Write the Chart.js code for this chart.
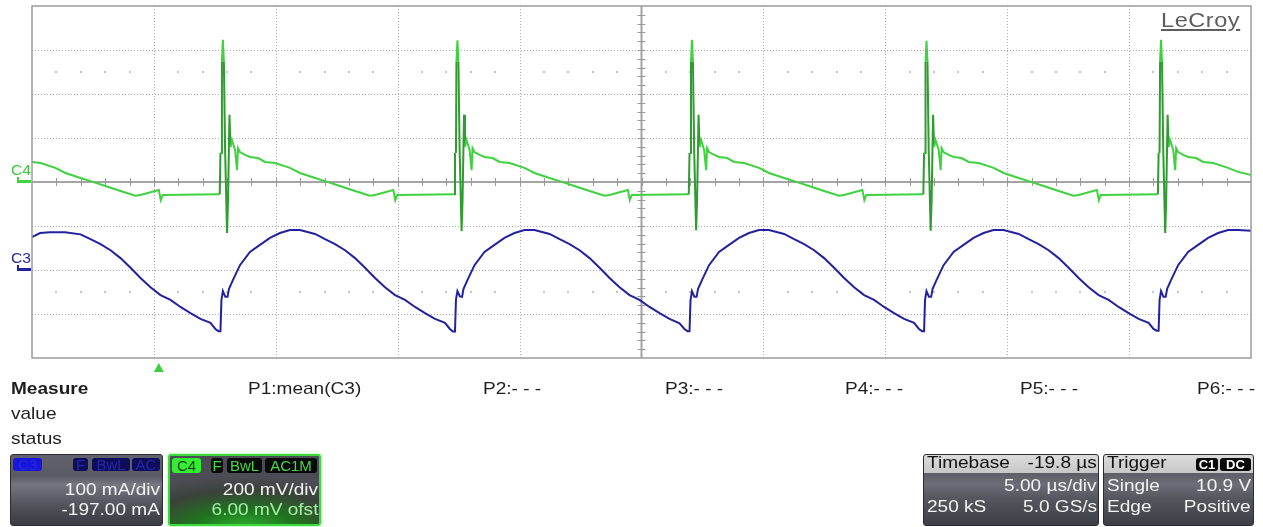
<!DOCTYPE html>
<html>
<head>
<meta charset="utf-8">
<script src="https://cdn.jsdelivr.net/npm/chart.js@4/dist/chart.umd.min.js"></script>
<style>
  html, body { margin: 0; padding: 0; background: #fff; }
  #wrap { position: relative; width: 1263px; height: 527px; overflow: hidden; }
  #scope { position: absolute; left: 0; top: 0; }
  .t { position: absolute; font-family: 'Liberation Sans', Arial, sans-serif; font-size: 17px;
       line-height: 20px; white-space: nowrap; color: #1e1e1e; transform: scaleX(1.12); transform-origin: left top; }
  .r { transform-origin: right top; }
  .box { position: absolute; top: 454px; height: 72px; box-sizing: border-box; border-radius: 3px; overflow: hidden; }
  .badge { position: absolute; top: 3px; height: 13px; border-radius: 3px; font-family: 'Liberation Sans', Arial, sans-serif;
           font-size: 15px; line-height: 13px; text-align: center; }
  .lbl { position: absolute; font-family: 'Liberation Sans', Arial, sans-serif; font-size: 14px; line-height: 16px;
         transform: scaleX(1.12); transform-origin: left top; }
</style>
</head>
<body>
<div id="wrap">
  <canvas id="scope" width="1263" height="527"></canvas>

  <div class="lbl" style="left:11px;top:162px;color:#3cc83c;">C4</div>
  <div class="lbl" style="left:11px;top:250px;color:#26269c;">C3</div>

  <div class="t" style="left:1161px;top:8px;font-size:21px;line-height:24px;letter-spacing:0.5px;color:#5e5e5e;
       text-decoration:underline;text-decoration-thickness:2px;text-underline-offset:2px;">LeCroy</div>

  <div class="t" style="left:11px;top:379px;font-weight:bold;">Measure</div>
  <div class="t" style="left:11px;top:404px;">value</div>
  <div class="t" style="left:11px;top:429px;">status</div>
  <div id="slots"></div>

  <!-- C3 channel descriptor -->
  <div class="box" style="left:10px;width:153px;border:1px solid #2c2c30;
       background:linear-gradient(to bottom,#62626c 0%,#5a5a64 30%,#767680 42%,#62626c 58%,#4a4a52 80%,#3c3c44 100%);">
    <div class="badge" style="left:2px;width:29px;background:#1616e0;color:#2a2ac8;">C3</div>
    <div class="badge" style="left:62px;width:15px;background:#0d0d5a;color:#2626a8;">F</div>
    <div class="badge" style="left:81px;width:38px;background:#0d0d5a;color:#2626a8;">BwL</div>
    <div class="badge" style="left:121px;width:28px;background:#0d0d5a;color:#2626a8;">AC</div>
  </div>
  <div class="t r" style="right:1103px;top:480px;color:#f2f2f2;">100 mA/div</div>
  <div class="t r" style="right:1103px;top:500px;color:#f2f2f2;">-197.00 mA</div>

  <!-- C4 channel descriptor -->
  <div class="box" style="left:168px;width:153px;border:2px solid #3cd83c;box-shadow:0 0 3px #6f6;
       background:radial-gradient(ellipse 95% 75% at 50% 105%,#2fae2f 0%,#1f741f 35%,#3a423a 72%,#4c4c54 100%);">
    <div class="badge" style="left:2px;top:2px;height:15px;width:29px;line-height:15px;background:#33ee33;color:#0c3a0c;">C4</div>
    <div class="badge" style="left:41px;top:2px;height:15px;width:12px;line-height:15px;background:#0a0a0a;color:#45d845;">F</div>
    <div class="badge" style="left:57px;top:2px;height:15px;width:35px;line-height:15px;background:#0a0a0a;color:#45d845;">BwL</div>
    <div class="badge" style="left:95px;top:2px;height:15px;width:52px;line-height:15px;background:#0a0a0a;color:#45d845;">AC1M</div>
  </div>
  <div class="t r" style="right:945px;top:480px;color:#f2f2f2;">200 mV/div</div>
  <div class="t r" style="right:945px;top:500px;color:#a6eea6;">6.00 mV ofst</div>

  <!-- Timebase descriptor -->
  <div class="box" style="left:923px;width:176px;border:1px solid #2c2c30;
       background:linear-gradient(to bottom,#dcdcdc 0%,#c8c8c8 25%,#5e5e66 26%,#6c6c76 42%,#56565e 62%,#3e3e46 100%);"></div>
  <div class="t" style="left:927px;top:453px;color:#111;">Timebase</div>
  <div class="t r" style="right:166px;top:453px;color:#111;">-19.8 µs</div>
  <div class="t r" style="right:166px;top:476px;color:#f2f2f2;">5.00 µs/div</div>
  <div class="t" style="left:927px;top:497px;color:#f2f2f2;">250 kS</div>
  <div class="t r" style="right:166px;top:497px;color:#f2f2f2;">5.0 GS/s</div>

  <!-- Trigger descriptor -->
  <div class="box" style="left:1103px;width:151px;border:1px solid #2c2c30;
       background:linear-gradient(to bottom,#dcdcdc 0%,#c8c8c8 25%,#5e5e66 26%,#6c6c76 42%,#56565e 62%,#3e3e46 100%);">
    <div class="badge" style="left:92px;top:3px;width:22px;height:13px;background:#0a0a0a;color:#fff;font-size:13px;font-weight:bold;">C1</div>
    <div class="badge" style="left:116px;top:3px;width:31px;height:13px;background:#0a0a0a;color:#fff;font-size:13px;font-weight:bold;">DC</div>
  </div>
  <div class="t" style="left:1107px;top:453px;color:#111;">Trigger</div>
  <div class="t" style="left:1107px;top:476px;color:#f2f2f2;">Single</div>
  <div class="t r" style="right:12px;top:476px;color:#f2f2f2;">10.9 V</div>
  <div class="t" style="left:1107px;top:497px;color:#f2f2f2;">Edge</div>
  <div class="t r" style="right:12px;top:497px;color:#f2f2f2;">Positive</div>
</div>

<script>
// Horizontal: 5 µs/div, 10 divisions, centre at +19.8 µs
const timeDivs = [-5.2, -0.2, 4.8, 9.8, 14.8, 19.8, 24.8, 29.8, 34.8, 39.8, 44.8];
// C3: 100 mA/div, offset -197 mA (8 divisions)
const c3Divs = [-203, -103, -3, 97, 197, 297, 397, 497, 597];
// C4: 200 mV/div, offset 6 mV
const c4Range = [-806, 794];

// Measurement slots along the bottom strip
const measureNames = ['P1:mean(C3)', 'P2:- - -', 'P3:- - -', 'P4:- - -', 'P5:- - -', 'P6:- - -'];
const measureLeft = [248, 483, 665, 845, 1020, 1197];

// C4 trace: time (µs) and voltage (mV)
const c4Time = [
  -5.20, -4.85, -4.24, -3.83, -3.21, -2.80, -2.19, -1.57, -0.96, -0.75, 0.00, 0.08, 0.16,
  2.50, 2.53, 2.57, 2.59, 2.63, 2.67, 2.72, 2.80, 2.84, 2.90, 2.94, 3.00, 3.13, 3.21, 3.25, 3.33, 3.54, 3.74, 4.07, 4.36, 4.77, 5.38, 5.79, 6.41, 6.82, 7.43, 8.05, 8.66, 8.87, 9.62, 9.70, 9.78,
  12.12, 12.15, 12.19, 12.21, 12.25, 12.29, 12.34, 12.42, 12.46, 12.52, 12.56, 12.62, 12.75, 12.83, 12.87, 12.95, 13.16, 13.36, 13.69, 13.98, 14.39, 15.00, 15.41, 16.03, 16.44, 17.05, 17.67, 18.28, 18.49, 19.24, 19.32, 19.40,
  21.74, 21.77, 21.81, 21.83, 21.87, 21.91, 21.96, 22.04, 22.08, 22.14, 22.18, 22.24, 22.37, 22.45, 22.49, 22.57, 22.78, 22.98, 23.31, 23.60, 24.01, 24.62, 25.03, 25.65, 26.06, 26.67, 27.29, 27.90, 28.11, 28.86, 28.94, 29.02,
  31.36, 31.39, 31.43, 31.45, 31.49, 31.53, 31.58, 31.66, 31.70, 31.76, 31.80, 31.86, 31.99, 32.07, 32.11, 32.19, 32.40, 32.60, 32.93, 33.22, 33.63, 34.24, 34.65, 35.27, 35.68, 36.29, 36.91, 37.52, 37.73, 38.48, 38.56, 38.64,
  40.98, 41.01, 41.05, 41.07, 41.11, 41.15, 41.20, 41.28, 41.32, 41.38, 41.42, 41.48, 41.61, 41.69, 41.73, 41.81, 42.02, 42.22, 42.55, 42.84, 43.25, 43.86, 44.27, 44.80
];
const c4Mv = [
  85, 80, 58, 35, 12, -2, -24, -47, -68, -65, -42, -88, -65,
  -62, 126, 126, 540, 640, 540, 140, -238, -88, 300, 153, 185, 140, 48, 148, 130, 117, 108, 103, 85, 80, 58, 35, 12, -2, -24, -47, -68, -65, -42, -88, -65,
  -62, 126, 126, 540, 638, 540, 140, -230, -88, 300, 153, 185, 140, 48, 148, 130, 117, 108, 103, 85, 80, 58, 35, 12, -2, -24, -47, -68, -65, -42, -88, -65,
  -62, 126, 126, 540, 640, 540, 140, -225, -88, 300, 153, 185, 140, 48, 148, 130, 117, 108, 103, 85, 80, 58, 35, 12, -2, -24, -47, -68, -65, -42, -88, -65,
  -62, 126, 126, 540, 636, 540, 140, -228, -88, 300, 153, 185, 140, 48, 148, 130, 117, 108, 103, 85, 80, 58, 35, 12, -2, -24, -47, -68, -65, -42, -88, -65,
  -62, 126, 126, 540, 640, 540, 140, -238, -88, 300, 153, 185, 140, 48, 148, 130, 117, 108, 103, 85, 80, 58, 40, 26
];

// C3 trace: time (µs) and current (mA)
const c3Time = [
  -5.20, -4.87, -4.46, -3.85, -3.21, -2.80, -2.39, -1.98, -1.57, -1.16, -0.75, -0.34, 0.07, 0.48, 0.89, 1.30, 1.71, 2.12, 2.32, 2.45,
  2.53, 2.57, 2.63, 2.73, 2.82, 2.88, 3.04, 3.33, 3.74, 4.15, 4.56, 4.97, 5.38, 5.79, 6.41, 6.82, 7.23, 7.64, 8.05, 8.46, 8.87, 9.28, 9.69, 10.10, 10.51, 10.92, 11.33, 11.74, 11.94, 12.07,
  12.15, 12.19, 12.25, 12.35, 12.44, 12.50, 12.66, 12.95, 13.36, 13.77, 14.18, 14.59, 15.00, 15.41, 16.03, 16.44, 16.85, 17.26, 17.67, 18.08, 18.49, 18.90, 19.31, 19.72, 20.13, 20.54, 20.95, 21.36, 21.56, 21.69,
  21.77, 21.81, 21.87, 21.97, 22.06, 22.12, 22.28, 22.57, 22.98, 23.39, 23.80, 24.21, 24.62, 25.03, 25.65, 26.06, 26.47, 26.88, 27.29, 27.70, 28.11, 28.52, 28.93, 29.34, 29.75, 30.16, 30.57, 30.98, 31.18, 31.31,
  31.39, 31.43, 31.49, 31.59, 31.68, 31.74, 31.90, 32.19, 32.60, 33.01, 33.42, 33.83, 34.24, 34.65, 35.27, 35.68, 36.09, 36.50, 36.91, 37.32, 37.73, 38.14, 38.55, 38.96, 39.37, 39.78, 40.19, 40.60, 40.80, 40.93,
  41.01, 41.05, 41.11, 41.21, 41.30, 41.36, 41.52, 41.81, 42.22, 42.63, 43.04, 43.45, 43.86, 44.27, 44.80
];
const c3Ma = [
  72, 81, 83, 83, 78, 67, 56, 42, 24, 2, -21, -42, -60, -71, -87, -101, -114, -123, -137, -142,
  -142, -71, -51, -64, -64, -46, -26, 8, 38, 54, 70, 81, 88, 88, 79, 67, 56, 42, 24, 2, -21, -42, -60, -71, -87, -101, -114, -123, -137, -143,
  -143, -70, -51, -63, -64, -46, -26, 8, 38, 54, 70, 81, 88, 88, 79, 67, 56, 42, 24, 2, -21, -42, -60, -71, -87, -101, -114, -124, -137, -142,
  -142, -72, -51, -64, -64, -46, -26, 8, 38, 54, 70, 81, 88, 88, 79, 67, 56, 42, 24, 2, -21, -42, -60, -71, -87, -101, -114, -123, -137, -142,
  -142, -71, -51, -64, -64, -46, -26, 8, 38, 54, 70, 81, 88, 88, 79, 67, 56, 42, 24, 2, -21, -42, -60, -71, -87, -101, -114, -123, -137, -141,
  -141, -71, -51, -64, -64, -46, -26, 8, 38, 54, 70, 81, 88, 88, 86
];

// measurement slot labels
const slots = document.getElementById('slots');
measureNames.forEach((name, i) => {
  const d = document.createElement('div');
  d.className = 't';
  d.style.left = measureLeft[i] + 'px';
  d.style.top = '379px';
  d.textContent = name;
  slots.appendChild(d);
});

const C4_GREEN = '#3fd13f';
const C4_DARK = '#2e9c2e';
const C3_BLUE = '#22229e';

function toPoints(xs, ys) { return xs.map((t, i) => ({ x: t, y: ys[i] })); }

// Graticule, frame, channel zero markers and trigger arrow
const graticule = {
  id: 'graticule',
  beforeDatasetsDraw(chart) {
    const { ctx, chartArea: a, scales: { x, yC3 } } = chart;
    const line = (x0, y0, x1, y1) => { ctx.beginPath(); ctx.moveTo(x0, y0); ctx.lineTo(x1, y1); ctx.stroke(); };
    ctx.save();
    ctx.strokeStyle = '#ababab';
    ctx.lineWidth = 1;
    ctx.setLineDash([1, 2]);
    timeDivs.slice(1, -1).forEach((v, i) => {
      if (i + 1 === 5) return;
      const px = Math.round(x.getPixelForValue(v)) + 0.5;
      line(px, a.top, px, a.bottom);
    });
    c3Divs.slice(1, -1).forEach((v, i) => {
      if (i + 1 === 4) return;
      const py = Math.round(yC3.getPixelForValue(v)) + 0.5;
      line(a.left, py, a.right, py);
    });
    ctx.setLineDash([]);

    const cx = x.getPixelForValue(timeDivs[5]);
    const cy = yC3.getPixelForValue(c3Divs[4]);
    const divW = (a.right - a.left) / 10;
    const divH = (a.bottom - a.top) / 8;

    // faint marks at ±2.5 divisions
    ctx.fillStyle = '#c4c4c4';
    [cy - 2.5 * divH, cy + 2.5 * divH].forEach(py => {
      for (let k = 1; k < 50; k++) {
        if (k % 5 === 0) continue;
        ctx.fillRect(Math.round(a.left + k * divW / 5) - 1, Math.round(py) - 1, 2, 2);
      }
    });

    // centre cross
    ctx.strokeStyle = '#a4a4a4';
    ctx.lineWidth = 2;
    line(a.left, cy, a.right, cy);
    line(cx, a.top, cx, a.bottom);
    ctx.lineWidth = 1;
    ctx.strokeStyle = '#9a9a9a';
    for (let k = 1; k < 50; k++) {
      const px = Math.round(a.left + k * divW / 5) + 0.5;
      line(px, cy - 4, px, cy + 4);
    }
    for (let k = 1; k < 40; k++) {
      const py = Math.round(a.top + k * divH / 5) + 0.5;
      line(cx - 4, py, cx + 4, py);
    }
    ctx.restore();
  },
  afterDraw(chart) {
    const { ctx, chartArea: a, scales: { x, yC3, yC4 } } = chart;
    ctx.save();
    ctx.strokeStyle = '#9c9c9c';
    ctx.lineWidth = 1.5;
    ctx.strokeRect(a.left, a.top, a.right - a.left, a.bottom - a.top);

    // channel zero-level markers
    const marker = (py, color) => {
      ctx.fillStyle = color;
      ctx.fillRect(17, Math.round(py) - 1, 14, 3);
      ctx.fillRect(17, Math.round(py) - 4, 2, 4);
    };
    marker(yC4.getPixelForValue(0), C4_GREEN);
    marker(yC3.getPixelForValue(0), C3_BLUE);

    // trigger position arrow
    const tx = x.getPixelForValue(0);
    ctx.fillStyle = '#3ccf3c';
    ctx.beginPath();
    ctx.moveTo(tx, a.bottom + 5);
    ctx.lineTo(tx + 5, a.bottom + 14);
    ctx.lineTo(tx - 5, a.bottom + 14);
    ctx.closePath();
    ctx.fill();
    ctx.restore();
  }
};

new Chart(document.getElementById('scope'), {
  type: 'line',
  data: {
    datasets: [
      {
        label: 'C4',
        data: toPoints(c4Time, c4Mv),
        yAxisID: 'yC4',
        borderColor: C4_GREEN,
        borderWidth: 2,
        pointRadius: 0,
        tension: 0,
        segment: {
          borderColor: c => Math.abs(c.p1.y - c.p0.y) > 25 ? C4_DARK : C4_GREEN
        }
      },
      {
        label: 'C3',
        data: toPoints(c3Time, c3Ma),
        yAxisID: 'yC3',
        borderColor: C3_BLUE,
        borderWidth: 2,
        pointRadius: 0,
        tension: 0
      }
    ]
  },
  options: {
    responsive: false,
    animation: false,
    devicePixelRatio: 1,
    layout: { padding: { left: 32, right: 12, top: 6, bottom: 169 } },
    plugins: { legend: { display: false }, tooltip: { enabled: false } },
    scales: {
      x: { type: 'linear', min: timeDivs[0], max: timeDivs[timeDivs.length - 1], display: false },
      yC3: { type: 'linear', min: c3Divs[0], max: c3Divs[c3Divs.length - 1], display: false },
      yC4: { type: 'linear', min: c4Range[0], max: c4Range[1], display: false }
    }
  },
  plugins: [graticule]
});
</script>
</body>
</html>
